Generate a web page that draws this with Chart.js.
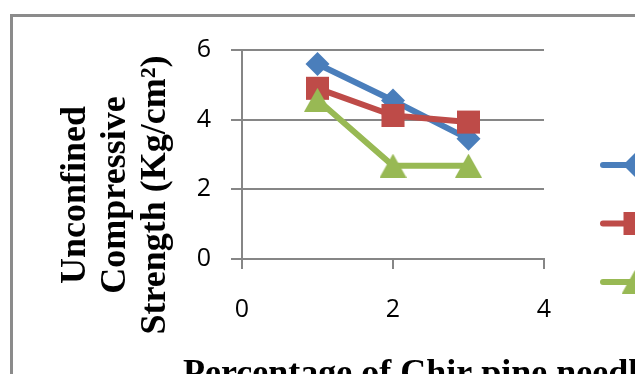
<!DOCTYPE html>
<html>
<head>
<meta charset="utf-8">
<script src="https://cdn.jsdelivr.net/npm/chart.js@4.4.1/dist/chart.umd.min.js"></script>
<style>
  html, body { margin: 0; padding: 0; background: #fff; overflow: hidden; }
  #wrap { position: relative; width: 635px; height: 374px; }
</style>
</head>
<body>
<div id="wrap"><canvas id="chart" width="635" height="374"></canvas></div>
<script>
// Unconfined compressive strength against chir pine needle content

const needlePercent = [1, 2, 3];
const seriesNames = ['Series1', 'Series2', 'Series3'];
const strengthA = [5.6, 4.55, 3.45];
const strengthB = [4.9, 4.12, 3.93];
const strengthC = [4.57, 2.68, 2.68];
const xTickValues = [0, 2, 4];
const yTickValues = [0, 2, 4, 6];

const yTitleLines = ['Unconfined', 'Compressive', 'Strength (Kg/cm²)'];
const xTitleText = 'Percentage of Chir pine needles (%)';

const BLUE = '#4A7EBB';
const RED = '#BE4B48';
const GREEN = '#98B954';
const GRID = '#868686';

// triangle marker centred on its bounding box
function makeTriangle(color) {
  const c = document.createElement('canvas');
  c.width = 27;
  c.height = 24;
  const g = c.getContext('2d');
  g.fillStyle = color;
  g.beginPath();
  g.moveTo(13.5, 0);
  g.lineTo(27, 24);
  g.lineTo(0, 24);
  g.closePath();
  g.fill();
  return c;
}
const greenTriangle = makeTriangle(GREEN);

function toPoints(values) {
  return needlePercent.map((x, i) => ({ x: x, y: values[i] }));
}

function drawMarker(ctx, kind, color, x, y) {
  ctx.fillStyle = color;
  ctx.beginPath();
  if (kind === 'diamond') {
    ctx.moveTo(x, y - 12);
    ctx.lineTo(x + 12, y);
    ctx.lineTo(x, y + 12);
    ctx.lineTo(x - 12, y);
    ctx.closePath();
    ctx.fill();
  } else if (kind === 'square') {
    ctx.rect(x - 11.5, y - 11.5, 23, 23);
    ctx.fill();
  } else {
    ctx.drawImage(greenTriangle, x - 13.5, y - 12);
  }
}

// frame, axis titles and legend
const decorations = {
  id: 'decorations',
  beforeDraw(chart) {
    const ctx = chart.ctx;
    ctx.save();
    ctx.strokeStyle = '#8b8b8b';
    ctx.lineWidth = 3;
    ctx.strokeRect(11.5, 15.5, 800, 500);
    ctx.restore();
  },
  afterDraw(chart) {
    const ctx = chart.ctx;
    ctx.save();
    ctx.fillStyle = '#000';
    ctx.font = 'bold 36px "Liberation Serif"';
    ctx.textAlign = 'center';
    ctx.textBaseline = 'alphabetic';
    const baselines = [85, 125, 165];
    yTitleLines.forEach((line, i) => {
      ctx.save();
      ctx.translate(baselines[i], 195);
      ctx.rotate(-Math.PI / 2);
      ctx.fillText(line, 0, 0);
      ctx.restore();
    });
    ctx.textAlign = 'left';
    ctx.fillText(xTitleText, 183, 384);

    const kinds = ['diamond', 'square', 'triangle'];
    const colors = [BLUE, RED, GREEN];
    seriesNames.forEach((name, i) => {
      const y = 165 + i * 58.5;
      ctx.strokeStyle = colors[i];
      ctx.lineWidth = 6;
      ctx.lineCap = 'round';
      ctx.beginPath();
      ctx.moveTo(603, y);
      ctx.lineTo(667, y);
      ctx.stroke();
      drawMarker(ctx, kinds[i], colors[i], 635, y);
      ctx.fillStyle = '#000';
      ctx.font = '25px "Open Sans"';
      ctx.textBaseline = 'middle';
      ctx.fillText(name, 685, y);
    });
    ctx.restore();
  }
};

const lineStyle = {
  borderWidth: 6,
  borderCapStyle: 'round',
  borderJoinStyle: 'round',
  pointBorderWidth: 0,
  pointHoverRadius: 12,
  tension: 0
};

new Chart(document.getElementById('chart'), {
  type: 'line',
  data: {
    datasets: [
      Object.assign({
        label: seriesNames[0],
        data: toPoints(strengthA),
        borderColor: BLUE,
        backgroundColor: BLUE,
        pointStyle: 'rectRot',
        pointRadius: 12,
        order: 3
      }, lineStyle),
      Object.assign({
        label: seriesNames[1],
        data: toPoints(strengthB),
        borderColor: RED,
        backgroundColor: RED,
        pointStyle: 'rect',
        pointRadius: 16.3,
        order: 2
      }, lineStyle),
      Object.assign({
        label: seriesNames[2],
        data: toPoints(strengthC),
        borderColor: GREEN,
        backgroundColor: GREEN,
        pointStyle: greenTriangle,
        pointRadius: 13,
        order: 1
      }, lineStyle)
    ]
  },
  options: {
    responsive: false,
    animation: false,
    events: [],
    layout: {
      autoPadding: false,
      padding: { top: 50, right: 91, left: 0, bottom: 0 }
    },
    plugins: {
      legend: { display: false },
      tooltip: { enabled: false }
    },
    scales: {
      x: {
        type: 'linear',
        min: 0,
        max: 4,
        afterBuildTicks: s => { s.ticks = xTickValues.map(v => ({ value: v })); },
        afterFit: s => { s.height = 374 - 259; },
        grid: { drawOnChartArea: false, color: GRID, lineWidth: 2, tickLength: 10 },
        border: { color: GRID, width: 2 },
        ticks: {
          color: '#000',
          font: { family: 'Open Sans', size: 25 },
          padding: 26,
          maxRotation: 0
        }
      },
      y: {
        type: 'linear',
        min: 0,
        max: 6,
        afterBuildTicks: s => { s.ticks = yTickValues.map(v => ({ value: v })); },
        afterFit: s => { s.width = 242; },
        grid: { color: GRID, lineWidth: 2, tickLength: 11 },
        border: { color: GRID, width: 2 },
        ticks: {
          color: '#000',
          font: { family: 'Open Sans', size: 25 },
          padding: 20
        }
      }
    }
  },
  plugins: [decorations]
});
</script>
</body>
</html>
